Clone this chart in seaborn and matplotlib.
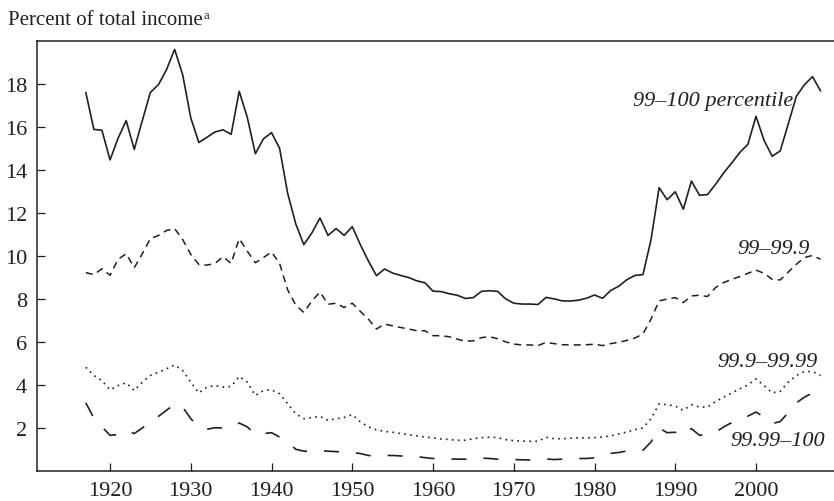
import numpy as np
import pandas as pd
import matplotlib
matplotlib.use("Agg")
import matplotlib.pyplot as plt
import seaborn as sns

# shares of total income (%), 1917-2008
years = list(range(1917, 2009))

top_1 = [17.60, 15.88, 15.84, 14.46, 15.47, 16.29, 14.95, 16.29, 17.60, 17.96,
         18.66, 19.60, 18.42, 16.42, 15.27, 15.51, 15.76, 15.86, 15.65, 17.65,
         16.44, 14.75, 15.44, 15.73, 15.00, 12.91, 11.49, 10.52, 11.07, 11.76,
         10.95, 11.27, 10.95, 11.36, 10.52, 9.76, 9.08, 9.39, 9.20, 9.09,
         8.99, 8.84, 8.75, 8.36, 8.34, 8.24, 8.17, 8.02, 8.06, 8.35,
         8.38, 8.35, 8.00, 7.80, 7.76, 7.76, 7.74, 8.07, 8.00, 7.91,
         7.90, 7.94, 8.03, 8.18, 8.03, 8.39, 8.59, 8.89, 9.09, 9.13,
         10.75, 13.17, 12.61, 12.98, 12.17, 13.48, 12.82, 12.85, 13.33, 13.86,
         14.32, 14.81, 15.19, 16.49, 15.37, 14.63, 14.88, 16.14, 17.42, 17.96,
         18.33, 17.67]

p99_999 = [9.22, 9.13, 9.40, 9.10, 9.84, 10.10, 9.45, 10.10, 10.80, 10.95,
           11.18, 11.27, 10.76, 10.07, 9.60, 9.57, 9.65, 9.96, 9.65, 10.80,
           10.22, 9.68, 9.92, 10.18, 9.65, 8.42, 7.71, 7.37, 7.90, 8.32,
           7.75, 7.80, 7.60, 7.80, 7.42, 7.06, 6.60, 6.83, 6.75, 6.67,
           6.60, 6.52, 6.52, 6.29, 6.29, 6.24, 6.13, 6.03, 6.05, 6.20,
           6.24, 6.15, 6.00, 5.90, 5.86, 5.86, 5.83, 5.98, 5.92, 5.87,
           5.86, 5.86, 5.87, 5.89, 5.83, 5.92, 5.98, 6.07, 6.18, 6.37,
           7.06, 7.91, 7.99, 8.06, 7.83, 8.14, 8.17, 8.11, 8.53, 8.76,
           8.91, 9.04, 9.19, 9.34, 9.19, 8.91, 8.88, 9.25, 9.61, 9.92,
           10.02, 9.84]

p999_9999 = [4.82, 4.44, 4.20, 3.77, 3.97, 4.10, 3.74, 4.13, 4.44, 4.59,
             4.75, 4.93, 4.67, 4.13, 3.63, 3.90, 3.97, 3.90, 3.93, 4.39,
             4.13, 3.51, 3.74, 3.77, 3.59, 3.13, 2.66, 2.43, 2.48, 2.54,
             2.35, 2.43, 2.49, 2.62, 2.28, 2.05, 1.91, 1.84, 1.80, 1.74,
             1.69, 1.63, 1.58, 1.54, 1.49, 1.46, 1.43, 1.43, 1.50, 1.55,
             1.57, 1.55, 1.46, 1.41, 1.39, 1.38, 1.38, 1.57, 1.50, 1.50,
             1.52, 1.54, 1.54, 1.55, 1.58, 1.63, 1.72, 1.81, 1.92, 2.00,
             2.43, 3.12, 3.08, 3.02, 2.82, 3.08, 2.97, 2.97, 3.23, 3.43,
             3.63, 3.82, 4.00, 4.28, 3.97, 3.63, 3.70, 4.13, 4.44, 4.62,
             4.62, 4.44]

p9999_100 = [3.17, 2.46, 2.05, 1.66, 1.69, 1.89, 1.74, 2.00, 2.27, 2.54,
             2.82, 3.12, 2.97, 2.43, 2.05, 1.94, 2.01, 2.00, 2.00, 2.23,
             2.05, 1.69, 1.74, 1.78, 1.58, 1.35, 1.01, 0.92, 0.92, 0.95,
             0.92, 0.90, 0.88, 0.86, 0.81, 0.72, 0.70, 0.72, 0.72, 0.70,
             0.67, 0.67, 0.62, 0.58, 0.58, 0.56, 0.55, 0.55, 0.55, 0.60,
             0.58, 0.55, 0.55, 0.53, 0.52, 0.51, 0.51, 0.56, 0.53, 0.55,
             0.58, 0.58, 0.58, 0.61, 0.73, 0.82, 0.86, 0.93, 0.95, 0.96,
             1.35, 2.00, 1.78, 1.80, 1.63, 1.97, 1.66, 1.70, 1.80, 2.05,
             2.25, 2.40, 2.55, 2.74, 2.51, 2.20, 2.30, 2.71, 3.17, 3.43,
             3.63, 3.36]

series_labels = ["99\u2013100 percentile", "99\u201399.9", "99.9\u201399.99", "99.99\u2013100"]
x_ticks = [1920, 1930, 1940, 1950, 1960, 1970, 1980, 1990, 2000]
y_ticks = [2, 4, 6, 8, 10, 12, 14, 16, 18]

df = pd.DataFrame({"year": years, "top_1": top_1, "p99_999": p99_999,
                   "p999_9999": p999_9999, "p9999_100": p9999_100})

sns.set_style("ticks")
plt.rcParams["font.family"] = ["Liberation Serif", "DejaVu Serif"]
ink = "#231f20"

fig = plt.figure(figsize=(8.34, 5.02), dpi=100)
ax = fig.add_axes([0.044, 0.0598, 0.956, 0.857])

sns.lineplot(data=df, x="year", y="top_1", ax=ax, color=ink, lw=1.2)
sns.lineplot(data=df, x="year", y="p99_999", ax=ax, color=ink, lw=1.1,
             linestyle=(0, (4.6, 3.3)))
sns.lineplot(data=df, x="year", y="p999_9999", ax=ax, color=ink, lw=1.2,
             linestyle=(0, (1, 2.6)))
sns.lineplot(data=df, x="year", y="p9999_100", ax=ax, color=ink, lw=1.2,
             linestyle=(0, (9, 10.2)))

# scale: 1920 -> 110 px, 2000 -> 756 px
ax.set_xlim(1910.92, 2009.66)
ax.set_ylim(0, 20)
ax.set_xticks(x_ticks)
ax.set_yticks(y_ticks)
ax.set_xlabel("")
ax.set_ylabel("")
ax.tick_params(direction="in", length=6, width=0.9, colors=ink, labelsize=16, pad=7)
for s in ax.spines.values():
    s.set_color(ink)
    s.set_linewidth(1.1)
ax.spines["right"].set_visible(False)

# series labels
lab_kw = dict(fontsize=16, style="italic", color=ink, ha="right", va="baseline")
ax.text(2004.6, 17.0, series_labels[0], **lab_kw)
ax.text(2006.6, 10.12, series_labels[1], **lab_kw)
ax.text(2007.6, 4.9, series_labels[2], **lab_kw)
ax.text(2008.6, 1.19, series_labels[3], **lab_kw)

# header with superscript
t = fig.text(8 / 834, 1 - 25 / 502, "Percent of total income", fontsize=15,
             color=ink, ha="left", va="baseline")
fig.canvas.draw()
bb = t.get_window_extent()
fig.text((bb.x1 + 1) / 834, 1 - 19 / 502, "a", fontsize=9, color=ink,
         ha="left", va="baseline")

fig.savefig("out.png", dpi=100)
